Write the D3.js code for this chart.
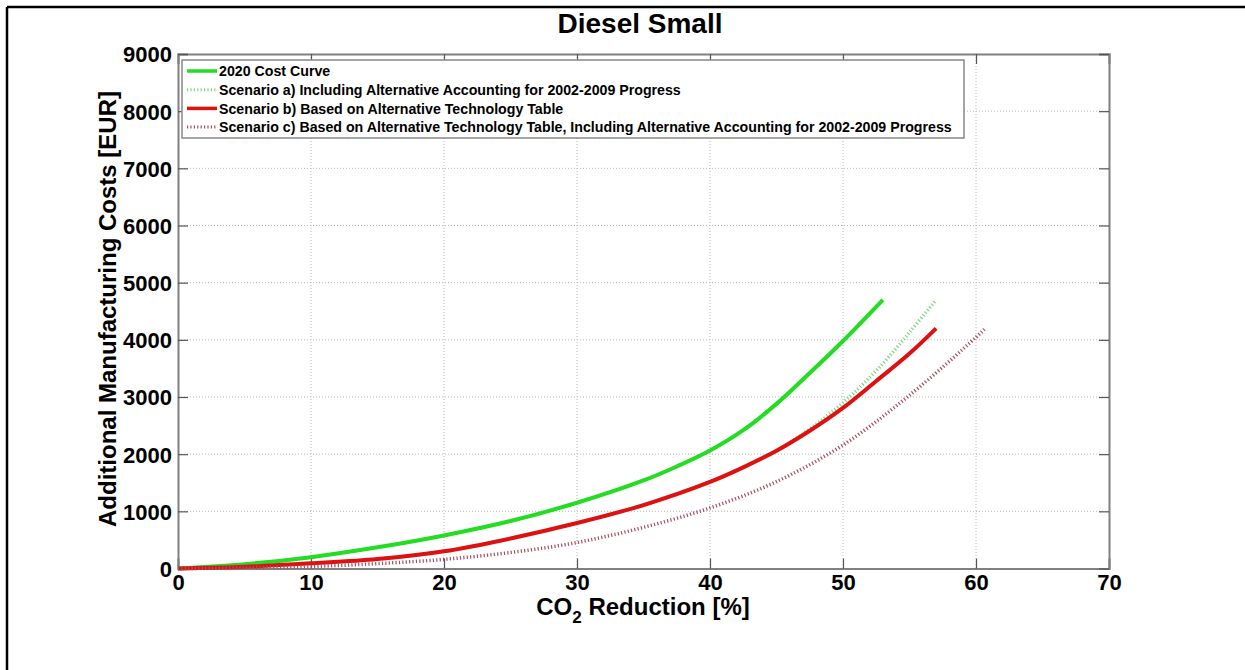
<!DOCTYPE html>
<html>
<head>
<meta charset="utf-8">
<script src="https://cdn.jsdelivr.net/npm/d3@7"></script>
<style>
  html, body { margin: 0; padding: 0; background: #fff; overflow: hidden; }
  svg { display: block; font-family: "Liberation Sans", Arial, sans-serif; }
</style>
</head>
<body>
<svg id="chart" width="1245" height="670"></svg>
<script>
// ---- data ----
const title = "Diesel Small";
const xTicks = [0, 10, 20, 30, 40, 50, 60, 70];
const yTicks = [0, 1000, 2000, 3000, 4000, 5000, 6000, 7000, 8000, 9000];

const costCurveX = [0, 5, 10, 15, 20, 25, 30, 35, 37.5, 40, 42.5, 45, 47.5, 50, 53];
const costCurveY = [0, 75, 198, 370, 578, 830, 1150, 1540, 1785, 2065, 2420, 2880, 3420, 3980, 4700];

const scenarioAX = [0, 5, 10, 15, 20, 25, 30, 35, 40, 42.5, 45, 47.5, 50, 52.5, 55, 57];
const scenarioAY = [0, 30, 90, 165, 300, 525, 795, 1110, 1515, 1770, 2060, 2440, 2900, 3460, 4130, 4700];

const scenarioBX = [0, 5, 10, 15, 20, 25, 30, 35, 40, 42.5, 45, 47.5, 50, 52.5, 55, 57];
const scenarioBY = [0, 30, 90, 165, 300, 525, 795, 1110, 1515, 1770, 2060, 2410, 2810, 3280, 3760, 4200];

const scenarioCX = [0, 5, 10, 15, 20, 25, 30, 35, 40, 45, 50, 55, 60, 60.7];
const scenarioCY = [0, 10, 35, 85, 160, 280, 455, 720, 1060, 1520, 2160, 3030, 4045, 4200];

const seriesNames = [
  "2020 Cost Curve",
  "Scenario a) Including Alternative Accounting for 2002-2009 Progress",
  "Scenario b) Based on Alternative Technology Table",
  "Scenario c) Based on Alternative Technology Table, Including Alternative Accounting for 2002-2009 Progress"
];

// ---- build series ----
const zip = (xs, ys) => xs.map((x, i) => ({x: x, y: ys[i]}));
const series = [
  {name: seriesNames[0], pts: zip(costCurveX, costCurveY), color: "#22dd22", width: 4, dash: null},
  {name: seriesNames[1], pts: zip(scenarioAX, scenarioAY), color: "#7fd67f", width: 3.5, dash: "1.2,2.2"},
  {name: seriesNames[2], pts: zip(scenarioBX, scenarioBY), color: "#dd1111", width: 4, dash: null},
  {name: seriesNames[3], pts: zip(scenarioCX, scenarioCY), color: "#a8505e", width: 3.5, dash: "1.2,2.2"}
];

const svg = d3.select("#chart");

// outer frame (only left and top edges fall inside the window)
svg.append("line").attr("x1", 7).attr("x2", 1245).attr("y1", 7).attr("y2", 7)
  .attr("stroke", "#000").attr("stroke-width", 2.5);
svg.append("line").attr("x1", 7).attr("x2", 7).attr("y1", 7).attr("y2", 670)
  .attr("stroke", "#000").attr("stroke-width", 2.5);

const L = 178, R = 1109, T = 54, B = 568.5;
const x = d3.scaleLinear().domain([0, 70]).range([L, R]);
const y = d3.scaleLinear().domain([0, 9000]).range([B, T]);

// grid
const grid = svg.append("g");
grid.selectAll("line.gx").data(xTicks.slice(1, -1)).enter().append("line")
  .attr("x1", d => x(d)).attr("x2", d => x(d)).attr("y1", T).attr("y2", B)
  .attr("stroke", "#b8b8b8").attr("stroke-width", 1).attr("stroke-dasharray", "1,2");
grid.selectAll("line.gy").data(yTicks.slice(1, -1)).enter().append("line")
  .attr("x1", L).attr("x2", R).attr("y1", d => y(d)).attr("y2", d => y(d))
  .attr("stroke", "#b8b8b8").attr("stroke-width", 1).attr("stroke-dasharray", "1,2");

// axes (ticks inward)
const tickLen = 10;
const axB = svg.append("g").attr("transform", `translate(0,${B})`)
  .call(d3.axisBottom(x).tickValues(xTicks).tickSize(-tickLen).tickPadding(6).tickFormat(d3.format("d")));
const axT = svg.append("g").attr("transform", `translate(0,${T})`)
  .call(d3.axisTop(x).tickValues(xTicks).tickSize(-tickLen).tickFormat(""));
const axL = svg.append("g").attr("transform", `translate(${L},0)`)
  .call(d3.axisLeft(y).tickValues(yTicks).tickSize(-tickLen).tickPadding(6).tickFormat(d3.format("d")));
const axR = svg.append("g").attr("transform", `translate(${R},0)`)
  .call(d3.axisRight(y).tickValues(yTicks).tickSize(-tickLen).tickFormat(""));

[axB, axT, axL, axR].forEach(a => {
  a.select(".domain").attr("stroke", "#808080").attr("stroke-width", 2);
  a.selectAll(".tick line").attr("stroke", "#555").attr("stroke-width", 1.2);
  a.selectAll(".tick text").attr("fill", "#000").attr("font-size", 22).attr("font-weight", "bold")
    .attr("font-family", "'Liberation Sans', Arial, sans-serif");
});
axL.selectAll(".tick text").attr("dy", "0.36em");

// lines
const lineGen = d3.line().x(d => x(d.x)).y(d => y(d.y)).curve(d3.curveCatmullRom.alpha(0.5));
const plot = svg.append("g");
series.forEach(s => {
  plot.append("path").datum(s.pts).attr("d", lineGen)
    .attr("fill", "none").attr("stroke", s.color).attr("stroke-width", s.width)
    .attr("stroke-dasharray", s.dash).attr("stroke-linejoin", "round");
});

// legend
const lg = svg.append("g");
lg.append("rect").attr("x", 182).attr("y", 60).attr("width", 782).attr("height", 78)
  .attr("fill", "#fff").attr("stroke", "#888").attr("stroke-width", 1.5);
series.forEach((s, i) => {
  const ry = 71 + i * 18.7;
  lg.append("line").attr("x1", 187).attr("x2", 217).attr("y1", ry).attr("y2", ry)
    .attr("stroke", s.color).attr("stroke-width", s.dash ? 3 : 3.5).attr("stroke-dasharray", s.dash);
  lg.append("text").attr("x", 219).attr("y", ry).attr("dy", "0.36em")
    .attr("font-size", 14.2).attr("font-weight", "bold").attr("fill", "#000").text(s.name);
});

// title
svg.append("text").attr("x", 640).attr("y", 33).attr("text-anchor", "middle")
  .attr("font-size", 28).attr("font-weight", "bold").text(title);

// x label with subscript
const xl = svg.append("text").attr("x", 643).attr("y", 615).attr("text-anchor", "middle")
  .attr("font-size", 24).attr("font-weight", "bold");
xl.append("tspan").text("CO");
xl.append("tspan").attr("font-size", 17).attr("dy", 8).text("2");
xl.append("tspan").attr("dy", -8).text(" Reduction [%]");

// y label
svg.append("text").attr("transform", "translate(116,309) rotate(-90)").attr("text-anchor", "middle")
  .attr("font-size", 24).attr("font-weight", "bold").text("Additional Manufacturing Costs [EUR]");
</script>
</body>
</html>
